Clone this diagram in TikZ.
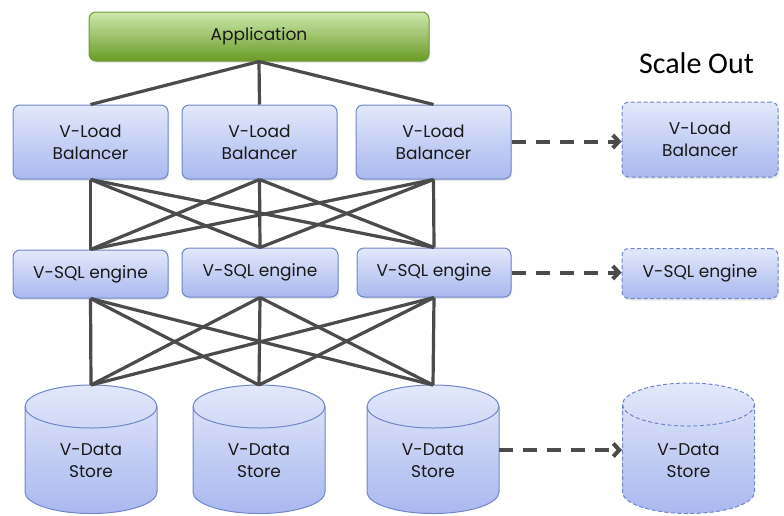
\documentclass[tikz,border=0pt]{standalone}
\usepackage{fontspec}
\setmainfont{Poppins}
\newfontfamily\scalefont{Carlito}
\usetikzlibrary{arrows.meta,shadows}
\definecolor{boxtop}{HTML}{E3E8FB}
\definecolor{boxbot}{HTML}{A9B8EF}
\definecolor{boxline}{HTML}{6F87C6}
\definecolor{apptop}{HTML}{CDE8AE}
\definecolor{appbot}{HTML}{6A9B25}
\definecolor{appline}{HTML}{6E9B36}
\definecolor{wirecol}{HTML}{4B4B4B}
\newcommand\mycyl[4]{%
  \path[#2] (#1-66,#3-21.5) -- (#1-66,-492) arc[start angle=180,end angle=360,x radius=66,y radius=21.5]
    -- (#1+66,#3-21.5) arc[start angle=0,end angle=180,x radius=66,y radius=21.5] -- cycle;
  \draw[#4] (#1-66,#3-21.5) arc[start angle=180,end angle=360,x radius=66,y radius=21.5];
}
\begin{document}
\begin{tikzpicture}[x=1pt,y=1pt,
  lbl/.style={font=\fontsize{17}{22}\selectfont, text=black!90, align=center, inner sep=0pt},
  box/.style={lbl, rectangle, rounded corners=7pt, draw=boxline, line width=1pt,
    top color=boxtop, bottom color=boxbot,
    drop shadow={opacity=0.18, shadow xshift=1pt, shadow yshift=-2pt}},
  ghost/.style={box, dash pattern=on 4pt off 2.5pt},
  appbox/.style={lbl, rectangle, rounded corners=7pt, draw=appline, line width=1pt,
    top color=apptop, bottom color=appbot,
    drop shadow={opacity=0.18, shadow xshift=1pt, shadow yshift=-2pt}},
  cylbody/.style={draw=boxline, line width=1pt, top color=boxtop, bottom color=boxbot},
  cylghost/.style={cylbody, dash pattern=on 4pt off 2.5pt},
  rim/.style={draw=boxline, line width=1pt},
  rimghost/.style={rim, dash pattern=on 4pt off 2.5pt},
  wire/.style={draw=wirecol, line width=3.2pt},
  scalearrow/.style={draw=wirecol, line width=4pt, dash pattern=on 14pt off 10pt,
    -{Straight Barb[length=6pt,width=13pt]}}]
\useasboundingbox (0,0) rectangle (784,-515);

% application
\node[appbox, minimum width=340pt, minimum height=49pt] (app) at (259,-36.5) {Application};

% load balancers
\node[box, minimum width=155pt, minimum height=74pt] (lb1) at (90.5,-142) {V-Load\\Balancer};
\node[box, minimum width=155pt, minimum height=74pt] (lb2) at (259.5,-142) {V-Load\\Balancer};
\node[box, minimum width=155pt, minimum height=74pt] (lb3) at (433.5,-142) {V-Load\\Balancer};
\node[ghost, minimum width=156pt, minimum height=75pt] (lb4) at (700,-139.5) {V-Load\\Balancer};

% sql engines
\node[box, minimum width=155pt, minimum height=48pt] (sql1) at (90.5,-274) {V-SQL engine};
\node[box, minimum width=156pt, minimum height=49pt] (sql2) at (260,-272.5) {V-SQL engine};
\node[box, minimum width=154pt, minimum height=49pt] (sql3) at (434,-272.5) {V-SQL engine};
\node[ghost, minimum width=156pt, minimum height=50pt] (sql4) at (700,-273.5) {V-SQL engine};

% data stores
\mycyl{91}{cylbody}{-385}{rim}
\mycyl{259}{cylbody}{-385}{rim}
\mycyl{433}{cylbody}{-385}{rim}
\mycyl{688.5}{cylghost}{-383}{rimghost}
\node[lbl] (ds1) at (91,-461) {V-Data\\Store};
\node[lbl] (ds2) at (259,-461) {V-Data\\Store};
\node[lbl] (ds3) at (433,-461) {V-Data\\Store};
\node[lbl] (ds4) at (688.5,-461) {V-Data\\Store};
\coordinate (ds1top) at (91,-385);
\coordinate (ds2top) at (259,-385);
\coordinate (ds3top) at (433,-385);
\coordinate (ds3e) at (499,-450);
\coordinate (ds4w) at (622,-450);

% scale out label
\node[font=\scalefont\fontsize{30}{34}\selectfont, inner sep=0pt] (scale) at (696.5,-63) {Scale Out};

% connectors
\foreach \t in {lb1,lb2,lb3} \draw[wire] (app.south) -- (\t.north);
\foreach \s in {lb1,lb2,lb3}
  \foreach \t in {sql1,sql2,sql3}
    \draw[wire] (\s.south) -- (\t.north);
\foreach \s in {sql1,sql2,sql3}
  \foreach \t in {ds1top,ds2top,ds3top}
    \draw[wire] (\s.south) -- (\t);

% scale-out arrows
\draw[scalearrow] (lb3.east |- 0,-141.5) -- (lb4.west |- 0,-141.5);
\draw[scalearrow] (sql3.east) -- (sql4.west |- sql3.east);
\draw[scalearrow] (ds3e) -- (ds4w);
\end{tikzpicture}
\end{document}
